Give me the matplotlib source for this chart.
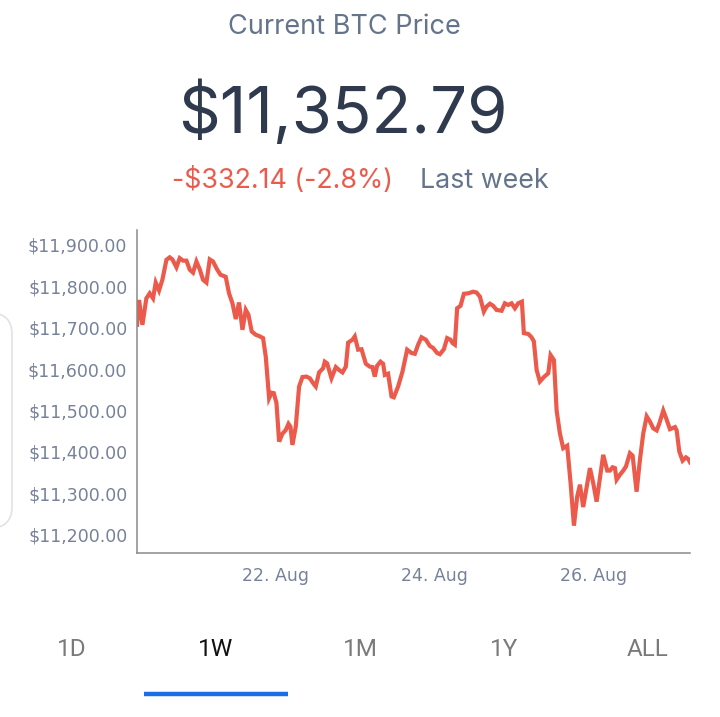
import matplotlib
matplotlib.use("Agg")
import matplotlib.pyplot as plt
from matplotlib.patches import FancyBboxPatch
from matplotlib.ticker import FuncFormatter

# ---- data (time in days of August, price in USD) ----
days = [20.251, 20.277, 20.319, 20.369, 20.411, 20.453, 20.487, 20.529, 20.571, 20.622,
        20.663, 20.697, 20.748, 20.789, 20.831, 20.874, 20.916, 20.957, 21.000, 21.042,
        21.083, 21.126, 21.168, 21.209, 21.260, 21.303, 21.369, 21.411, 21.454, 21.496,
        21.537, 21.580, 21.622, 21.656, 21.697, 21.748, 21.789, 21.840, 21.874, 21.916,
        21.946, 21.975, 22.009, 22.042, 22.084, 22.126, 22.160, 22.185, 22.210, 22.252,
        22.294, 22.337, 22.387, 22.429, 22.479, 22.504, 22.546, 22.596, 22.618, 22.647,
        22.702, 22.757, 22.798, 22.841, 22.883, 22.912, 22.967, 22.996, 23.038, 23.081,
        23.135, 23.185, 23.219, 23.248, 23.277, 23.320, 23.353, 23.375, 23.416, 23.459,
        23.488, 23.542, 23.597, 23.656, 23.711, 23.753, 23.794, 23.837, 23.892, 23.942,
        23.984, 24.034, 24.068, 24.119, 24.160, 24.203, 24.228, 24.257, 24.286, 24.329,
        24.371, 24.425, 24.488, 24.531, 24.573, 24.623, 24.657, 24.699, 24.740, 24.783,
        24.846, 24.888, 24.929, 24.972, 25.014, 25.055, 25.102, 25.127, 25.182, 25.224,
        25.253, 25.288, 25.329, 25.380, 25.434, 25.464, 25.506, 25.540, 25.581, 25.623,
        25.673, 25.716, 25.758, 25.799, 25.834, 25.875, 25.960, 26.001, 26.044, 26.127,
        26.178, 26.212, 26.246, 26.275, 26.296, 26.338, 26.380, 26.414, 26.464, 26.498,
        26.548, 26.590, 26.632, 26.675, 26.717, 26.758, 26.801, 26.833, 26.884, 26.927,
        26.968, 27.032, 27.053, 27.086, 27.128, 27.170, 27.199, 27.221]
prices = [11707, 11767, 11707, 11771, 11783, 11771, 11809, 11790, 11816, 11864,
          11870, 11865, 11846, 11868, 11862, 11862, 11840, 11833, 11860, 11841,
          11816, 11809, 11865, 11860, 11841, 11828, 11823, 11783, 11759, 11721,
          11761, 11695, 11743, 11731, 11691, 11683, 11680, 11675, 11630, 11530,
          11543, 11542, 11518, 11425, 11444, 11453, 11468, 11461, 11417, 11461,
          11558, 11581, 11582, 11578, 11564, 11558, 11592, 11602, 11618, 11614,
          11578, 11605, 11598, 11592, 11606, 11664, 11671, 11679, 11647, 11648,
          11613, 11606, 11605, 11582, 11608, 11618, 11613, 11586, 11589, 11534,
          11532, 11558, 11594, 11647, 11639, 11637, 11659, 11677, 11671, 11656,
          11651, 11639, 11636, 11648, 11675, 11671, 11663, 11659, 11747, 11753,
          11782, 11783, 11787, 11785, 11775, 11739, 11751, 11758, 11753, 11743,
          11741, 11759, 11755, 11759, 11747, 11759, 11763, 11687, 11685, 11677,
          11667, 11598, 11570, 11581, 11590, 11634, 11622, 11500, 11445, 11409,
          11415, 11325, 11222, 11292, 11321, 11267, 11361, 11325, 11280, 11393,
          11355, 11355, 11363, 11361, 11333, 11345, 11355, 11365, 11397, 11391,
          11304, 11381, 11445, 11486, 11473, 11457, 11452, 11468, 11500, 11478,
          11455, 11460, 11452, 11401, 11379, 11387, 11383, 11375]

y_ticks = [11200, 11300, 11400, 11500, 11600, 11700, 11800, 11900]
x_ticks = [22, 24, 26]
x_tick_labels = ["22. Aug", "24. Aug", "26. Aug"]
tabs = ["1D", "1W", "1M", "1Y", "ALL"]
active_tab = "1W"

title = "Current BTC Price"
price_text = "$11,352.79"
change_text = "-$332.14 (-2.8%)"
period_text = "Last week"

# ---- figure ----
W, H = 720, 717
fig = plt.figure(figsize=(W / 100, H / 100), dpi=100)
fig.patch.set_facecolor("white")

def fx(px):
    return px / W

def fy(py):
    return 1 - py / H

slate = "#64748b"
dark = "#2f3a4f"
red = "#ec5a4b"

fig.text(fx(344), fy(27), title, ha="center", va="center", fontsize=19.5,
         family="Inter", color=slate)
fig.text(fx(343), fy(113), price_text, ha="center", va="center", fontsize=47,
         family="Inter", color=dark)
fig.text(fx(283), fy(181), change_text, ha="center", va="center", fontsize=19.3,
         family="Inter", color=red)
fig.text(fx(484), fy(181), period_text, ha="center", va="center", fontsize=19.3,
         family="Inter", color=slate)

# left card edge
card = FancyBboxPatch((fx(-60), fy(528)), fx(72), fy(313) - fy(528),
                      boxstyle="round,pad=0,rounding_size=0.03",
                      transform=fig.transFigure, facecolor="white",
                      edgecolor="#e2e2e2", linewidth=1.2, zorder=0)
fig.patches.append(card)

ax = fig.add_axes([fx(137), fy(553), fx(690) - fx(137), fy(230) - fy(553)])
ax.plot(days, prices, color=red, linewidth=3.0, solid_joinstyle="miter")
ax.set_xlim(min(days), max(days))
ax.set_ylim(11156, 11936)
ax.set_yticks(y_ticks)
ax.yaxis.set_major_formatter(FuncFormatter(lambda v, p: "${:,.2f}".format(v)))
ax.set_xticks(x_ticks)
ax.set_xticklabels(x_tick_labels)
for s in ["top", "right"]:
    ax.spines[s].set_visible(False)
for s in ["left", "bottom"]:
    ax.spines[s].set_color("#8a8a8a")
    ax.spines[s].set_linewidth(1.1)
ax.tick_params(axis="both", length=0, colors="#76819a", labelsize=12.5)
ax.tick_params(axis="y", pad=7)
ax.tick_params(axis="x", pad=10)
for lab in ax.get_yticklabels() + ax.get_xticklabels():
    lab.set_family("DejaVu Sans")

# tabs
for i, t in enumerate(tabs):
    cx = 72 + 144 * i
    fig.text(fx(cx), fy(650), t, ha="center", va="center", fontsize=17.5,
             family="Roboto", fontweight="normal",
             color="#111111" if t == active_tab else "#7a7a7a")
    if t == active_tab:
        fig.add_artist(plt.Line2D([fx(cx - 72), fx(cx + 72)], [fy(694), fy(694)],
                                  transform=fig.transFigure, color="#1a6fe8",
                                  linewidth=3.2, solid_capstyle="butt"))

fig.savefig("out.png", dpi=100)
